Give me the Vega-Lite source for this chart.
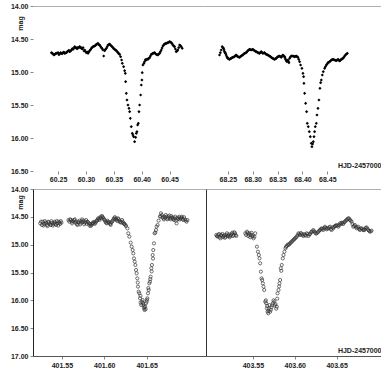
{
"$schema":"https://vega.github.io/schema/vega-lite/v6.json",
"padding":{"left":10,"top":2,"right":0,"bottom":0},
"spacing":3,
"config":{"font":"Liberation Sans","view":{"stroke":null},
"axis":{"labelFont":"Liberation Sans","labelFontSize":7,"labelFontWeight":"bold","labelColor":"#222","titleFont":"Liberation Sans","titleFontSize":7,"titleFontWeight":"bold","titleColor":"#222","grid":false,"tickColor":"#888","tickSize":3}},
"datasets":{
"tl":[{"t":60.2381,"m":14.707},{"t":60.2410,"m":14.727},{"t":60.2440,"m":14.732},{"t":60.2470,"m":14.717},{"t":60.2500,"m":14.707},{"t":60.2530,"m":14.727},{"t":60.2560,"m":14.717},{"t":60.2590,"m":14.707},{"t":60.2619,"m":14.717},{"t":60.2649,"m":14.707},{"t":60.2679,"m":14.682},{"t":60.2709,"m":14.692},{"t":60.2739,"m":14.667},{"t":60.2769,"m":14.657},{"t":60.2799,"m":14.616},{"t":60.2828,"m":14.641},{"t":60.2858,"m":14.626},{"t":60.2888,"m":14.616},{"t":60.2918,"m":14.641},{"t":60.2948,"m":14.631},{"t":60.2978,"m":14.667},{"t":60.3007,"m":14.707},{"t":60.3037,"m":14.717},{"t":60.3067,"m":14.677},{"t":60.3097,"m":14.641},{"t":60.3127,"m":14.616},{"t":60.3157,"m":14.606},{"t":60.3187,"m":14.581},{"t":60.3216,"m":14.566},{"t":60.3246,"m":14.591},{"t":60.3276,"m":14.631},{"t":60.3306,"m":14.667},{"t":60.3318,"m":14.758},{"t":60.3336,"m":14.677},{"t":60.3366,"m":14.641},{"t":60.3396,"m":14.591},{"t":60.3425,"m":14.576},{"t":60.3455,"m":14.606},{"t":60.3485,"m":14.631},{"t":60.3515,"m":14.657},{"t":60.3545,"m":14.677},{"t":60.3575,"m":14.707},{"t":60.3604,"m":14.732},{"t":60.3622,"m":14.768},{"t":60.3640,"m":14.818},{"t":60.3652,"m":14.869},{"t":60.3676,"m":14.919},{"t":60.3694,"m":14.980},{"t":60.3706,"m":15.020},{"t":60.3712,"m":15.146},{"t":60.3724,"m":15.323},{"t":60.3736,"m":15.424},{"t":60.3754,"m":15.500},{"t":60.3772,"m":15.550},{"t":60.3784,"m":15.601},{"t":60.3796,"m":15.702},{"t":60.3813,"m":15.828},{"t":60.3831,"m":15.929},{"t":60.3843,"m":15.954},{"t":60.3855,"m":15.980},{"t":60.3873,"m":16.055},{"t":60.3891,"m":15.990},{"t":60.3903,"m":15.929},{"t":60.3915,"m":15.904},{"t":60.3927,"m":15.803},{"t":60.3939,"m":15.778},{"t":60.3951,"m":15.601},{"t":60.3963,"m":15.500},{"t":60.3981,"m":15.348},{"t":60.3993,"m":15.197},{"t":60.4004,"m":15.121},{"t":60.4010,"m":15.010},{"t":60.4022,"m":14.894},{"t":60.4040,"m":14.869},{"t":60.4052,"m":14.843},{"t":60.4082,"m":14.818},{"t":60.4112,"m":14.808},{"t":60.4142,"m":14.783},{"t":60.4172,"m":14.732},{"t":60.4201,"m":14.717},{"t":60.4231,"m":14.707},{"t":60.4261,"m":14.732},{"t":60.4291,"m":14.742},{"t":60.4321,"m":14.717},{"t":60.4351,"m":14.667},{"t":60.4381,"m":14.606},{"t":60.4410,"m":14.576},{"t":60.4440,"m":14.566},{"t":60.4470,"m":14.556},{"t":60.4500,"m":14.540},{"t":60.4530,"m":14.556},{"t":60.4560,"m":14.591},{"t":60.4590,"m":14.616},{"t":60.4619,"m":14.692},{"t":60.4649,"m":14.667},{"t":60.4679,"m":14.591},{"t":60.4709,"m":14.616},{"t":60.4727,"m":14.641},
{"t":60.2395,"m":14.717},{"t":60.2425,"m":14.742},{"t":60.2455,"m":14.722},{"t":60.2485,"m":14.712},{"t":60.2515,"m":14.737},{"t":60.2545,"m":14.707},{"t":60.2575,"m":14.722},{"t":60.2605,"m":14.697},{"t":60.2635,"m":14.712},{"t":60.2665,"m":14.692},{"t":60.2695,"m":14.672},{"t":60.2725,"m":14.682},{"t":60.2755,"m":14.647},{"t":60.2785,"m":14.636},{"t":60.2815,"m":14.626},{"t":60.2845,"m":14.646},{"t":60.2875,"m":14.631},{"t":60.2905,"m":14.626},{"t":60.2935,"m":14.651},{"t":60.2965,"m":14.682},{"t":60.2995,"m":14.692},{"t":60.3025,"m":14.697},{"t":60.3052,"m":14.697},{"t":60.3082,"m":14.661},{"t":60.3112,"m":14.626},{"t":60.3142,"m":14.611},{"t":60.3172,"m":14.596},{"t":60.3202,"m":14.576},{"t":60.3231,"m":14.586},{"t":60.3261,"m":14.611},{"t":60.3291,"m":14.646},{"t":60.3351,"m":14.656},{"t":60.3381,"m":14.616},{"t":60.3411,"m":14.586},{"t":60.3440,"m":14.591},{"t":60.3470,"m":14.616},{"t":60.3500,"m":14.646},{"t":60.3530,"m":14.667},{"t":60.3560,"m":14.692},{"t":60.3590,"m":14.722},{"t":60.4067,"m":14.813},{"t":60.4097,"m":14.803},{"t":60.4127,"m":14.793},{"t":60.4157,"m":14.758},{"t":60.4187,"m":14.727},{"t":60.4216,"m":14.712},{"t":60.4246,"m":14.722},{"t":60.4276,"m":14.737},{"t":60.4306,"m":14.727},{"t":60.4336,"m":14.692},{"t":60.4366,"m":14.636},{"t":60.4395,"m":14.591},{"t":60.4425,"m":14.571},{"t":60.4455,"m":14.561},{"t":60.4485,"m":14.551},{"t":60.4515,"m":14.546},{"t":60.4545,"m":14.571},{"t":60.4575,"m":14.606},{"t":60.4604,"m":14.651},{"t":60.4634,"m":14.681},{"t":60.4664,"m":14.631},{"t":60.4694,"m":14.601}],
"tr":[{"t":68.2332,"m":14.742},{"t":68.2366,"m":14.667},{"t":68.2386,"m":14.616},{"t":68.2413,"m":14.641},{"t":68.2433,"m":14.692},{"t":68.2453,"m":14.717},{"t":68.2480,"m":14.768},{"t":68.2500,"m":14.793},{"t":68.2534,"m":14.808},{"t":68.2567,"m":14.793},{"t":68.2601,"m":14.778},{"t":68.2634,"m":14.768},{"t":68.2668,"m":14.742},{"t":68.2701,"m":14.768},{"t":68.2735,"m":14.778},{"t":68.2768,"m":14.758},{"t":68.2802,"m":14.742},{"t":68.2836,"m":14.717},{"t":68.2869,"m":14.707},{"t":68.2903,"m":14.677},{"t":68.2936,"m":14.657},{"t":68.2970,"m":14.667},{"t":68.3003,"m":14.657},{"t":68.3037,"m":14.677},{"t":68.3070,"m":14.692},{"t":68.3104,"m":14.707},{"t":68.3138,"m":14.717},{"t":68.3171,"m":14.692},{"t":68.3205,"m":14.717},{"t":68.3238,"m":14.707},{"t":68.3272,"m":14.732},{"t":68.3305,"m":14.742},{"t":68.3339,"m":14.758},{"t":68.3372,"m":14.778},{"t":68.3406,"m":14.793},{"t":68.3440,"m":14.808},{"t":68.3473,"m":14.793},{"t":68.3507,"m":14.768},{"t":68.3540,"m":14.758},{"t":68.3574,"m":14.778},{"t":68.3607,"m":14.742},{"t":68.3641,"m":14.768},{"t":68.3661,"m":14.808},{"t":68.3688,"m":14.843},{"t":68.3708,"m":14.818},{"t":68.3728,"m":14.859},{"t":68.3742,"m":14.793},{"t":68.3775,"m":14.758},{"t":68.3809,"m":14.758},{"t":68.3842,"m":14.768},{"t":68.3876,"m":14.758},{"t":68.3909,"m":14.778},{"t":68.3943,"m":14.843},{"t":68.3963,"m":14.894},{"t":68.3990,"m":14.944},{"t":68.4010,"m":15.020},{"t":68.4023,"m":15.071},{"t":68.4030,"m":15.172},{"t":68.4044,"m":15.323},{"t":68.4064,"m":15.475},{"t":68.4084,"m":15.601},{"t":68.4097,"m":15.778},{"t":68.4117,"m":15.828},{"t":68.4138,"m":15.904},{"t":68.4158,"m":15.980},{"t":68.4178,"m":16.081},{"t":68.4191,"m":16.131},{"t":68.4205,"m":16.091},{"t":68.4218,"m":16.056},{"t":68.4232,"m":15.980},{"t":68.4245,"m":15.904},{"t":68.4258,"m":15.828},{"t":68.4279,"m":15.778},{"t":68.4292,"m":15.652},{"t":68.4312,"m":15.551},{"t":68.4332,"m":15.424},{"t":68.4352,"m":15.247},{"t":68.4366,"m":15.162},{"t":68.4379,"m":15.121},{"t":68.4399,"m":15.045},{"t":68.4419,"m":14.995},{"t":68.4446,"m":14.944},{"t":68.4480,"m":14.894},{"t":68.4513,"m":14.859},{"t":68.4547,"m":14.843},{"t":68.4581,"m":14.818},{"t":68.4614,"m":14.808},{"t":68.4648,"m":14.818},{"t":68.4681,"m":14.828},{"t":68.4715,"m":14.808},{"t":68.4748,"m":14.833},{"t":68.4782,"m":14.808},{"t":68.4815,"m":14.793},{"t":68.4849,"m":14.758},{"t":68.4883,"m":14.727},{"t":68.4903,"m":14.717},
{"t":68.2349,"m":14.707},{"t":68.2400,"m":14.631},{"t":68.2423,"m":14.667},{"t":68.2443,"m":14.707},{"t":68.2466,"m":14.742},{"t":68.2490,"m":14.783},{"t":68.2517,"m":14.803},{"t":68.2550,"m":14.798},{"t":68.2584,"m":14.783},{"t":68.2617,"m":14.773},{"t":68.2651,"m":14.752},{"t":68.2685,"m":14.758},{"t":68.2718,"m":14.773},{"t":68.2752,"m":14.768},{"t":68.2785,"m":14.748},{"t":68.2819,"m":14.727},{"t":68.2852,"m":14.712},{"t":68.2886,"m":14.692},{"t":68.2920,"m":14.667},{"t":68.2953,"m":14.662},{"t":68.2987,"m":14.662},{"t":68.3020,"m":14.667},{"t":68.3054,"m":14.687},{"t":68.3087,"m":14.697},{"t":68.3121,"m":14.712},{"t":68.3155,"m":14.702},{"t":68.3188,"m":14.707},{"t":68.3222,"m":14.712},{"t":68.3255,"m":14.722},{"t":68.3289,"m":14.737},{"t":68.3322,"m":14.752},{"t":68.3356,"m":14.768},{"t":68.3389,"m":14.788},{"t":68.3423,"m":14.803},{"t":68.3457,"m":14.798},{"t":68.3490,"m":14.778},{"t":68.3524,"m":14.763},{"t":68.3557,"m":14.768},{"t":68.3591,"m":14.758},{"t":68.3624,"m":14.758},{"t":68.3650,"m":14.788},{"t":68.3675,"m":14.828},{"t":68.3718,"m":14.838},{"t":68.3758,"m":14.773},{"t":68.3792,"m":14.758},{"t":68.3825,"m":14.763},{"t":68.3859,"m":14.763},{"t":68.3892,"m":14.768},{"t":68.3926,"m":14.808},{"t":68.4463,"m":14.919},{"t":68.4497,"m":14.879},{"t":68.4530,"m":14.853},{"t":68.4564,"m":14.833},{"t":68.4597,"m":14.813},{"t":68.4631,"m":14.813},{"t":68.4664,"m":14.823},{"t":68.4698,"m":14.818},{"t":68.4731,"m":14.820},{"t":68.4765,"m":14.820},{"t":68.4798,"m":14.800},{"t":68.4832,"m":14.776},{"t":68.4866,"m":14.742}],
"bl":[{"t":401.5245,"m":14.617},{"t":401.5265,"m":14.647},{"t":401.5276,"m":14.587},{"t":401.5292,"m":14.629},{"t":401.5308,"m":14.605},{"t":401.5324,"m":14.647},{"t":401.5339,"m":14.587},{"t":401.5355,"m":14.617},{"t":401.5371,"m":14.647},{"t":401.5386,"m":14.605},{"t":401.5402,"m":14.629},{"t":401.5418,"m":14.587},{"t":401.5433,"m":14.647},{"t":401.5449,"m":14.617},{"t":401.5465,"m":14.587},{"t":401.5480,"m":14.629},{"t":401.5496,"m":14.605},{"t":401.5578,"m":14.557},{"t":401.5598,"m":14.545},{"t":401.5614,"m":14.587},{"t":401.5629,"m":14.569},{"t":401.5645,"m":14.557},{"t":401.5661,"m":14.605},{"t":401.5676,"m":14.629},{"t":401.5692,"m":14.587},{"t":401.5708,"m":14.569},{"t":401.5724,"m":14.605},{"t":401.5739,"m":14.545},{"t":401.5755,"m":14.569},{"t":401.5771,"m":14.605},{"t":401.5786,"m":14.557},{"t":401.5802,"m":14.587},{"t":401.5818,"m":14.617},{"t":401.5833,"m":14.629},{"t":401.5849,"m":14.647},{"t":401.5865,"m":14.605},{"t":401.5880,"m":14.587},{"t":401.5896,"m":14.605},{"t":401.5912,"m":14.569},{"t":401.5927,"m":14.527},{"t":401.5943,"m":14.557},{"t":401.5959,"m":14.497},{"t":401.5975,"m":14.485},{"t":401.5990,"m":14.527},{"t":401.6006,"m":14.557},{"t":401.6022,"m":14.605},{"t":401.6037,"m":14.569},{"t":401.6053,"m":14.587},{"t":401.6069,"m":14.629},{"t":401.6084,"m":14.605},{"t":401.6100,"m":14.569},{"t":401.6116,"m":14.527},{"t":401.6131,"m":14.545},{"t":401.6147,"m":14.557},{"t":401.6163,"m":14.527},{"t":401.6178,"m":14.569},{"t":401.6194,"m":14.587},{"t":401.6210,"m":14.557},{"t":401.6225,"m":14.605},{"t":401.6241,"m":14.629},{"t":401.6257,"m":14.665},{"t":401.6273,"m":14.707},{"t":401.6284,"m":14.796},{"t":401.6296,"m":14.856},{"t":401.6312,"m":14.964},{"t":401.6324,"m":15.036},{"t":401.6335,"m":15.096},{"t":401.6343,"m":15.156},{"t":401.6351,"m":15.246},{"t":401.6359,"m":15.305},{"t":401.6367,"m":15.365},{"t":401.6375,"m":15.455},{"t":401.6382,"m":15.515},{"t":401.6390,"m":15.605},{"t":401.6398,"m":15.754},{"t":401.6406,"m":15.844},{"t":401.6414,"m":15.874},{"t":401.6422,"m":15.964},{"t":401.6429,"m":16.042},{"t":401.6437,"m":16.084},{"t":401.6445,"m":16.024},{"t":401.6453,"m":15.994},{"t":401.6461,"m":16.084},{"t":401.6469,"m":16.144},{"t":401.6476,"m":16.174},{"t":401.6484,"m":16.114},{"t":401.6492,"m":16.054},{"t":401.6500,"m":16.024},{"t":401.6508,"m":15.964},{"t":401.6516,"m":15.874},{"t":401.6524,"m":15.814},{"t":401.6531,"m":15.695},{"t":401.6539,"m":15.665},{"t":401.6547,"m":15.575},{"t":401.6555,"m":15.425},{"t":401.6563,"m":15.365},{"t":401.6571,"m":15.186},{"t":401.6578,"m":15.096},{"t":401.6586,"m":14.976},{"t":401.6594,"m":14.796},{"t":401.6602,"m":14.784},{"t":401.6610,"m":14.737},{"t":401.6618,"m":14.677},{"t":401.6629,"m":14.647},{"t":401.6641,"m":14.569},{"t":401.6657,"m":14.497},{"t":401.6669,"m":14.437},{"t":401.6680,"m":14.467},{"t":401.6696,"m":14.527},{"t":401.6712,"m":14.497},{"t":401.6727,"m":14.467},{"t":401.6743,"m":14.545},{"t":401.6759,"m":14.497},{"t":401.6775,"m":14.527},{"t":401.6790,"m":14.485},{"t":401.6806,"m":14.509},{"t":401.6822,"m":14.557},{"t":401.6837,"m":14.497},{"t":401.6853,"m":14.617},{"t":401.6869,"m":14.545},{"t":401.6884,"m":14.497},{"t":401.6900,"m":14.527},{"t":401.6916,"m":14.497},{"t":401.6931,"m":14.557},{"t":401.6951,"m":14.545},{"t":401.6971,"m":14.587},
{"t":401.5255,"m":14.587},{"t":401.5284,"m":14.657},{"t":401.5300,"m":14.577},{"t":401.5316,"m":14.617},{"t":401.5331,"m":14.667},{"t":401.5347,"m":14.597},{"t":401.5363,"m":14.637},{"t":401.5378,"m":14.577},{"t":401.5394,"m":14.657},{"t":401.5410,"m":14.607},{"t":401.5425,"m":14.627},{"t":401.5441,"m":14.577},{"t":401.5457,"m":14.657},{"t":401.5473,"m":14.607},{"t":401.5488,"m":14.577},{"t":401.5588,"m":14.587},{"t":401.5606,"m":14.557},{"t":401.5621,"m":14.617},{"t":401.5637,"m":14.587},{"t":401.5653,"m":14.545},{"t":401.5669,"m":14.587},{"t":401.5684,"m":14.647},{"t":401.5700,"m":14.605},{"t":401.5716,"m":14.637},{"t":401.5731,"m":14.577},{"t":401.5747,"m":14.597},{"t":401.5763,"m":14.635},{"t":401.5778,"m":14.587},{"t":401.5794,"m":14.625},{"t":401.5810,"m":14.597},{"t":401.5826,"m":14.657},{"t":401.5841,"m":14.665},{"t":401.5857,"m":14.625},{"t":401.5872,"m":14.617},{"t":401.5888,"m":14.627},{"t":401.5904,"m":14.587},{"t":401.5920,"m":14.557},{"t":401.5935,"m":14.537},{"t":401.5951,"m":14.517},{"t":401.5967,"m":14.527},{"t":401.5982,"m":14.505},{"t":401.5998,"m":14.547},{"t":401.6014,"m":14.587},{"t":401.6030,"m":14.617},{"t":401.6045,"m":14.597},{"t":401.6061,"m":14.607},{"t":401.6076,"m":14.645},{"t":401.6092,"m":14.585},{"t":401.6108,"m":14.547},{"t":401.6124,"m":14.505},{"t":401.6139,"m":14.527},{"t":401.6155,"m":14.577},{"t":401.6171,"m":14.545},{"t":401.6186,"m":14.597},{"t":401.6202,"m":14.605},{"t":401.6218,"m":14.587},{"t":401.6233,"m":14.627},{"t":401.6249,"m":14.647},{"t":401.6395,"m":15.68},{"t":401.6427,"m":15.92},{"t":401.6457,"m":16.05},{"t":401.6473,"m":16.12},{"t":401.6488,"m":16.16},{"t":401.6504,"m":15.99},{"t":401.6520,"m":15.78},{"t":401.6543,"m":15.62},{"t":401.6559,"m":15.48},{"t":401.6575,"m":15.25},{"t":401.6664,"m":14.487},{"t":401.6688,"m":14.507},{"t":401.6704,"m":14.547},{"t":401.6720,"m":14.517},{"t":401.6735,"m":14.497},{"t":401.6751,"m":14.527},{"t":401.6767,"m":14.477},{"t":401.6782,"m":14.545},{"t":401.6798,"m":14.517},{"t":401.6814,"m":14.537},{"t":401.6830,"m":14.527},{"t":401.6845,"m":14.567},{"t":401.6861,"m":14.517},{"t":401.6877,"m":14.527},{"t":401.6892,"m":14.547},{"t":401.6908,"m":14.517},{"t":401.6924,"m":14.537},{"t":401.6941,"m":14.507},{"t":401.6961,"m":14.567},{"t":401.6980,"m":14.557}],
"br":[{"t":403.5063,"m":14.826},{"t":403.5079,"m":14.856},{"t":403.5095,"m":14.808},{"t":403.5111,"m":14.886},{"t":403.5127,"m":14.844},{"t":403.5143,"m":14.868},{"t":403.5159,"m":14.826},{"t":403.5175,"m":14.856},{"t":403.5190,"m":14.796},{"t":403.5206,"m":14.844},{"t":403.5222,"m":14.868},{"t":403.5238,"m":14.826},{"t":403.5254,"m":14.784},{"t":403.5270,"m":14.826},{"t":403.5286,"m":14.796},{"t":403.5302,"m":14.844},{"t":403.5409,"m":14.796},{"t":403.5429,"m":14.766},{"t":403.5444,"m":14.844},{"t":403.5460,"m":14.796},{"t":403.5476,"m":14.826},{"t":403.5492,"m":14.856},{"t":403.5508,"m":14.886},{"t":403.5528,"m":14.796},{"t":403.5548,"m":15.036},{"t":403.5560,"m":15.126},{"t":403.5571,"m":15.186},{"t":403.5579,"m":15.246},{"t":403.5587,"m":15.335},{"t":403.5595,"m":15.485},{"t":403.5603,"m":15.605},{"t":403.5611,"m":15.635},{"t":403.5619,"m":15.695},{"t":403.5627,"m":15.754},{"t":403.5635,"m":15.814},{"t":403.5647,"m":16.024},{"t":403.5659,"m":16.054},{"t":403.5667,"m":16.144},{"t":403.5675,"m":16.204},{"t":403.5683,"m":16.234},{"t":403.5690,"m":16.144},{"t":403.5698,"m":16.084},{"t":403.5706,"m":16.204},{"t":403.5722,"m":16.126},{"t":403.5738,"m":16.054},{"t":403.5754,"m":16.024},{"t":403.5770,"m":16.066},{"t":403.5786,"m":16.114},{"t":403.5794,"m":15.874},{"t":403.5806,"m":15.814},{"t":403.5817,"m":15.695},{"t":403.5825,"m":15.635},{"t":403.5833,"m":15.425},{"t":403.5845,"m":15.365},{"t":403.5857,"m":15.246},{"t":403.5865,"m":15.186},{"t":403.5877,"m":15.126},{"t":403.5889,"m":15.066},{"t":403.5905,"m":15.024},{"t":403.5925,"m":15.006},{"t":403.5944,"m":14.976},{"t":403.5964,"m":14.946},{"t":403.5984,"m":14.916},{"t":403.6004,"m":14.886},{"t":403.6024,"m":14.856},{"t":403.6044,"m":14.796},{"t":403.6063,"m":14.826},{"t":403.6083,"m":14.808},{"t":403.6103,"m":14.844},{"t":403.6123,"m":14.826},{"t":403.6143,"m":14.796},{"t":403.6163,"m":14.844},{"t":403.6183,"m":14.808},{"t":403.6202,"m":14.766},{"t":403.6222,"m":14.737},{"t":403.6242,"m":14.784},{"t":403.6262,"m":14.796},{"t":403.6282,"m":14.766},{"t":403.6302,"m":14.737},{"t":403.6321,"m":14.707},{"t":403.6341,"m":14.737},{"t":403.6361,"m":14.677},{"t":403.6381,"m":14.725},{"t":403.6401,"m":14.707},{"t":403.6421,"m":14.677},{"t":403.6440,"m":14.737},{"t":403.6460,"m":14.707},{"t":403.6480,"m":14.665},{"t":403.6500,"m":14.647},{"t":403.6520,"m":14.677},{"t":403.6540,"m":14.617},{"t":403.6560,"m":14.605},{"t":403.6579,"m":14.629},{"t":403.6599,"m":14.587},{"t":403.6619,"m":14.557},{"t":403.6639,"m":14.527},{"t":403.6659,"m":14.557},{"t":403.6679,"m":14.587},{"t":403.6698,"m":14.677},{"t":403.6718,"m":14.647},{"t":403.6738,"m":14.707},{"t":403.6758,"m":14.677},{"t":403.6778,"m":14.737},{"t":403.6798,"m":14.707},{"t":403.6817,"m":14.737},{"t":403.6837,"m":14.725},{"t":403.6857,"m":14.689},{"t":403.6877,"m":14.737},{"t":403.6897,"m":14.766},{"t":403.6917,"m":14.749},
{"t":403.5071,"m":14.846},{"t":403.5087,"m":14.826},{"t":403.5103,"m":14.866},{"t":403.5119,"m":14.826},{"t":403.5135,"m":14.806},{"t":403.5151,"m":14.846},{"t":403.5167,"m":14.876},{"t":403.5183,"m":14.826},{"t":403.5198,"m":14.846},{"t":403.5214,"m":14.816},{"t":403.5230,"m":14.846},{"t":403.5246,"m":14.806},{"t":403.5262,"m":14.846},{"t":403.5278,"m":14.776},{"t":403.5294,"m":14.826},{"t":403.5419,"m":14.826},{"t":403.5437,"m":14.786},{"t":403.5452,"m":14.816},{"t":403.5468,"m":14.866},{"t":403.5484,"m":14.786},{"t":403.5500,"m":14.836},{"t":403.5518,"m":14.856},{"t":403.5655,"m":16.00},{"t":403.5671,"m":16.10},{"t":403.5687,"m":16.19},{"t":403.5714,"m":16.17},{"t":403.5730,"m":16.09},{"t":403.5746,"m":16.00},{"t":403.5762,"m":16.09},{"t":403.5778,"m":16.15},{"t":403.5790,"m":15.97},{"t":403.5813,"m":15.75},{"t":403.5839,"m":15.47},{"t":403.5895,"m":15.04},{"t":403.5915,"m":15.00},{"t":403.5935,"m":14.99},{"t":403.5954,"m":14.96},{"t":403.5974,"m":14.93},{"t":403.5994,"m":14.90},{"t":403.6014,"m":14.87},{"t":403.6034,"m":14.83},{"t":403.6054,"m":14.81},{"t":403.6073,"m":14.79},{"t":403.6093,"m":14.83},{"t":403.6113,"m":14.81},{"t":403.6133,"m":14.84},{"t":403.6153,"m":14.81},{"t":403.6173,"m":14.82},{"t":403.6193,"m":14.78},{"t":403.6212,"m":14.76},{"t":403.6232,"m":14.76},{"t":403.6252,"m":14.80},{"t":403.6272,"m":14.78},{"t":403.6292,"m":14.75},{"t":403.6312,"m":14.72},{"t":403.6331,"m":14.72},{"t":403.6351,"m":14.70},{"t":403.6371,"m":14.70},{"t":403.6391,"m":14.71},{"t":403.6411,"m":14.69},{"t":403.6431,"m":14.72},{"t":403.6450,"m":14.69},{"t":403.6470,"m":14.68},{"t":403.6490,"m":14.66},{"t":403.6510,"m":14.66},{"t":403.6530,"m":14.65},{"t":403.6550,"m":14.63},{"t":403.6570,"m":14.61},{"t":403.6589,"m":14.60},{"t":403.6609,"m":14.57},{"t":403.6629,"m":14.54},{"t":403.6649,"m":14.53},{"t":403.6669,"m":14.57},{"t":403.6689,"m":14.63},{"t":403.6708,"m":14.66},{"t":403.6728,"m":14.68},{"t":403.6748,"m":14.69},{"t":403.6768,"m":14.72},{"t":403.6788,"m":14.71},{"t":403.6808,"m":14.72},{"t":403.6827,"m":14.74},{"t":403.6847,"m":14.70},{"t":403.6867,"m":14.71},{"t":403.6887,"m":14.75},{"t":403.6907,"m":14.76}]
},
"vconcat":[
{"spacing":0,"hconcat":[
 {"width":170,"height":165,"data":{"name":"tl"},"resolve":{"axis":{"x":"independent","y":"independent"}},"layer":[
  {"mark":{"type":"point","shape":"diamond","filled":true,"color":"#000","size":10,"opacity":1},
   "encoding":{
    "x":{"field":"t","type":"quantitative","scale":{"domain":[60.205,60.51],"zero":false,"nice":false},"axis":{"values":[60.25,60.3,60.35,60.4,60.45],"format":".2f","domain":false,"offset":0,"labelPadding":1,"title":null}},
    "y":{"field":"m","type":"quantitative","scale":{"domain":[14,16.5],"reverse":true,"zero":false,"nice":false},"axis":{"values":[14,14.5,15,15.5,16,16.5],"format":".2f","domain":false,"labelPadding":2,"title":"mag","titleAngle":-90,"titleX":-13,"titleY":17,"titleAlign":"center","titleBaseline":"middle"}}}},
  {"mark":{"type":"point","opacity":0},
   "encoding":{
    "x":{"field":"t","type":"quantitative","axis":{"orient":"top","domain":true,"domainColor":"#b0b0b0","labels":false,"ticks":false,"title":null}},
    "y":{"field":"m","type":"quantitative","axis":{"orient":"right","domain":false,"labels":false,"ticks":false,"title":null}}}}
 ]},
 {"width":178,"height":165,"data":{"name":"tr"},"resolve":{"axis":{"x":"independent","y":"independent"}},"layer":[
  {"mark":{"type":"point","shape":"diamond","filled":true,"color":"#000","size":10,"opacity":1},
   "encoding":{
    "x":{"field":"t","type":"quantitative","scale":{"domain":[68.2,68.558],"zero":false,"nice":false},"axis":{"values":[68.25,68.3,68.35,68.4,68.45],"format":".2f","domain":false,"offset":0,"labelPadding":1,"title":"HJD-2457000","titleAnchor":"end","titleAlign":"right","titleBaseline":"alphabetic","titleY":-4}},
    "y":{"field":"m","type":"quantitative","scale":{"domain":[14,16.5],"reverse":true,"zero":false,"nice":false},"axis":{"domain":false,"labels":false,"ticks":false,"title":null}}}},
  {"mark":{"type":"point","opacity":0},
   "encoding":{
    "x":{"field":"t","type":"quantitative","axis":{"orient":"top","domain":true,"domainColor":"#b0b0b0","labels":false,"ticks":false,"title":null}},
    "y":{"field":"m","type":"quantitative","axis":{"orient":"right","domain":true,"domainColor":"#b0b0b0","labels":false,"ticks":false,"title":null}}}}
 ]}
]},
{"spacing":0,"hconcat":[
 {"width":173,"height":167,"data":{"name":"bl"},"resolve":{"axis":{"x":"independent","y":"independent"}},"layer":[
  {"mark":{"type":"point","shape":"circle","filled":false,"color":"#333","strokeWidth":0.7,"size":10,"opacity":1},
   "encoding":{
    "x":{"field":"t","type":"quantitative","scale":{"domain":[401.516,401.72],"zero":false,"nice":false},"axis":{"values":[401.55,401.6,401.65],"format":".2f","domain":true,"domainColor":"#555","labelPadding":2,"title":null}},
    "y":{"field":"m","type":"quantitative","scale":{"domain":[14,17],"reverse":true,"zero":false,"nice":false},"axis":{"values":[14,14.5,15,15.5,16,16.5,17],"format":".2f","domain":true,"domainColor":"#222","labelPadding":2,"title":"mag","titleAngle":-90,"titleX":-13,"titleY":13,"titleAlign":"center","titleBaseline":"middle"}}}},
  {"mark":{"type":"point","opacity":0},
   "encoding":{
    "x":{"field":"t","type":"quantitative","axis":{"orient":"top","domain":true,"domainColor":"#b0b0b0","labels":false,"ticks":false,"title":null}},
    "y":{"field":"m","type":"quantitative","axis":{"orient":"right","domain":false,"labels":false,"ticks":false,"title":null}}}}
 ]},
 {"width":175,"height":167,"data":{"name":"br"},"resolve":{"axis":{"x":"independent","y":"independent"}},"layer":[
  {"mark":{"type":"point","shape":"circle","filled":false,"color":"#333","strokeWidth":0.7,"size":10,"opacity":1},
   "encoding":{
    "x":{"field":"t","type":"quantitative","scale":{"domain":[403.494,403.703],"zero":false,"nice":false},"axis":{"values":[403.55,403.6,403.65],"format":".2f","domain":true,"domainColor":"#555","labelPadding":2,"title":"HJD-2457000","titleAnchor":"end","titleAlign":"right","titleBaseline":"alphabetic","titleY":-4}},
    "y":{"field":"m","type":"quantitative","scale":{"domain":[14,17],"reverse":true,"zero":false,"nice":false},"axis":{"domain":true,"domainColor":"#333","labels":false,"ticks":false,"title":null}}}},
  {"mark":{"type":"point","opacity":0},
   "encoding":{
    "x":{"field":"t","type":"quantitative","axis":{"orient":"top","domain":true,"domainColor":"#b0b0b0","labels":false,"ticks":false,"title":null}},
    "y":{"field":"m","type":"quantitative","axis":{"orient":"right","domain":false,"labels":false,"ticks":false,"title":null}}}}
 ]}
]}
]
}
